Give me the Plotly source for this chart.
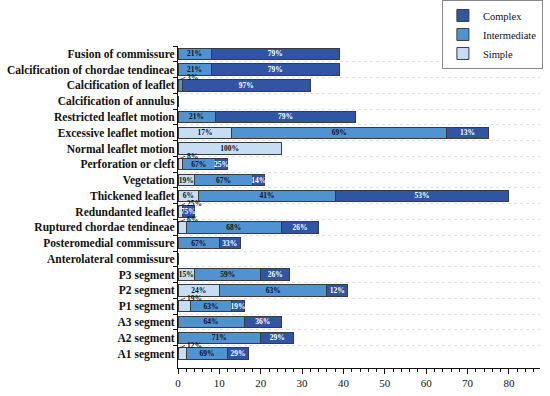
import plotly.graph_objects as go

categories = [
    "Fusion of commissure", "Calcification of chordae tendineae", "Calcification of leaflet",
    "Calcification of annulus", "Restricted leaflet motion", "Excessive leaflet motion",
    "Normal leaflet motion", "Perforation or cleft", "Vegetation", "Thickened leaflet",
    "Redundanted leaflet", "Ruptured chordae tendineae", "Posteromedial commissure",
    "Anterolateral commissure", "P3 segment", "P2 segment", "P1 segment",
    "A3 segment", "A2 segment", "A1 segment",
]
simple = [0, 0, 0, 0, 0, 13, 25, 1, 4, 5, 1, 2, 0, 0, 4, 10, 3, 0, 0, 2]
intermediate = [8, 8, 1, 0, 9, 52, 0, 8, 14, 33, 0, 23, 10, 0, 16, 26, 10, 16, 20, 10]
complex_ = [31, 31, 31, 0, 34, 10, 0, 3, 3, 42, 3, 9, 5, 0, 7, 5, 3, 9, 8, 5]

simple_lbl = ["", "", "", "", "", "17%", "100%", "", "19%", "6%", "", "", "", "", "15%", "24%", "", "", "", ""]
inter_lbl = ["21%", "21%", "", "", "21%", "69%", "", "67%", "67%", "41%", "", "68%", "67%", "", "59%", "63%", "63%", "64%", "71%", "69%"]
complex_lbl = ["79%", "79%", "97%", "", "79%", "13%", "", "25%", "14%", "53%", "75%", "26%", "33%", "", "26%", "12%", "19%", "36%", "29%", "29%"]

# small labels drawn outside with leader lines
outside_cat = ["Calcification of leaflet", "Perforation or cleft", "Redundanted leaflet",
               "Ruptured chordae tendineae", "P1 segment", "A1 segment"]
outside_lbl = ["3%", "8%", "25%", "6%", "19%", "12%"]

C_SIMPLE = "#c6ddf3"
C_INTER = "#4f93d3"
C_COMPLEX = "#2f55a3"
EDGE = "#3a3a3a"
FONT = "Liberation Serif"

fig = go.Figure()
for name, vals, lbls, col, tcol in [
    ("Simple", simple, simple_lbl, C_SIMPLE, "#111111"),
    ("Intermediate", intermediate, inter_lbl, C_INTER, "#111111"),
    ("Complex", complex_, complex_lbl, C_COMPLEX, "#ffffff"),
]:
    fig.add_trace(go.Bar(
        y=categories, x=vals, name=name, orientation="h",
        marker=dict(color=col, line=dict(color=EDGE, width=1)),
        text=lbls, textposition="inside", insidetextanchor="middle", textangle=0,
        textfont=dict(family=FONT, size=7.5, color=tcol, weight="bold"),
        hoverinfo="skip",
    ))

for cat, lbl in zip(outside_cat, outside_lbl):
    fig.add_annotation(
        x=0, y=cat, yshift=5, text=lbl, showarrow=True, arrowhead=0,
        arrowwidth=0.8, arrowcolor="#222", ax=7, ay=-3, xanchor="left",
        font=dict(family=FONT, size=7.5, color="#111", weight="bold"),
    )

fig.update_layout(
    width=550, height=396, barmode="stack", bargap=0.28,
    margin=dict(l=178, r=10, t=46, b=28, autoexpand=False),
    plot_bgcolor="white", paper_bgcolor="white",
    font=dict(family=FONT, color="#111"),
    uniformtext=dict(minsize=7, mode="show"),
    legend=dict(
        traceorder="reversed", x=1.008, y=1.143, xanchor="right", yanchor="top",
        bordercolor="#888", borderwidth=1, bgcolor="white",
        font=dict(family=FONT, size=10.5, color="#111"), itemwidth=30,
        tracegroupgap=0,
    ),
    showlegend=True,
)
fig.update_xaxes(
    range=[0, 87.5], dtick=10, ticks="outside", ticklen=5, tickcolor="#111",
    showline=True, linecolor="#111", linewidth=1, showgrid=False, zeroline=False,
    automargin=False,
    tickfont=dict(family=FONT, size=11, color="#111"),
    minor=dict(dtick=2, ticks="outside", ticklen=3, tickcolor="#111", showgrid=False),
)
fig.update_yaxes(
    autorange="reversed", type="category", tickson="boundaries",
    ticks="outside", ticklen=4, tickcolor="#111", automargin=False,
    showline=True, linecolor="#111", linewidth=1,
    showgrid=True, gridcolor="#e2e2e2", griddash="dot", gridwidth=1,
    tickfont=dict(family=FONT, size=11.5, color="#111", weight="bold"),
)

fig.write_html("out.html", config={"displayModeBar": False},
               post_script="document.body.style.margin='0';")
